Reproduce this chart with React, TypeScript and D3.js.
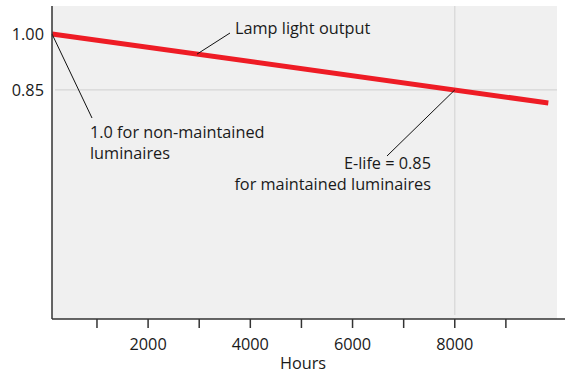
import React from "react";
import * as d3 from "d3";

const hours = [120, 9830];
const output = [1.0, 0.815];
const xTicks = [1000, 2000, 3000, 4000, 5000, 6000, 7000, 8000, 9000];
const xLabels = [2000, 4000, 6000, 8000];
const yTicks = [1.0, 0.85];

const W = 565, H = 374;
const left = 52, right = 557, top = 6, bottom = 319;
const FONT = "'Open Sans', sans-serif";
const FS = 16.3;

export default function App() {
  const x = d3.scaleLinear().domain([120, 10000]).range([left, right]);
  const y = d3.scaleLinear().domain([0.236, 1.075]).range([bottom, top]);
  const pts = hours.map((h, i) => [h, output[i]] as [number, number]);
  const line = d3.line<[number, number]>().x(d => x(d[0])).y(d => y(d[1]));
  const ex = x(8000), ey = y(0.85);
  const lampAt = (px: number) => y(1 - 0.15 * (x.invert(px) - 120) / 7880);
  return (
    <svg width={W} height={H} style={{ position: "absolute", left: 0, top: 0 }} fontFamily={FONT}>
      <rect x={left} y={top} width={right - left} height={bottom - top} fill="#f0f0f0" />
      <line x1={left + 3} x2={right} y1={y(0.85)} y2={y(0.85)} stroke="#d6d6d6" strokeWidth={1.2} />
      <line x1={x(8000)} x2={x(8000)} y1={top} y2={bottom - 4} stroke="#d6d6d6" strokeWidth={1.2} />
      <path d={line(pts) || ""} stroke="#ee1c25" strokeWidth={5} fill="none" />
      {/* leaders */}
      <line x1={197} y1={lampAt(197)} x2={230} y2={33} stroke="#111" strokeWidth={1} />
      <line x1={left} y1={y(1.0)} x2={92} y2={118} stroke="#111" strokeWidth={1} />
      <line x1={ex} y1={ey} x2={387} y2={156} stroke="#111" strokeWidth={1} />
      {/* axes */}
      <line x1={left} x2={left} y1={top} y2={bottom} stroke="#333" strokeWidth={1.5} />
      <line x1={left} x2={right + 8} y1={bottom} y2={bottom} stroke="#333" strokeWidth={1.5} />
      {xTicks.map(t => (
        <line key={t} x1={x(t)} x2={x(t)} y1={bottom} y2={bottom + 9} stroke="#333" strokeWidth={1.5} />
      ))}
      {xLabels.map(t => (
        <text key={t} x={x(t)} y={350} textAnchor="middle" fontSize={FS} fill="#1a1a1a">{t}</text>
      ))}
      <text x={303} y={369} textAnchor="middle" fontSize={FS} fill="#1a1a1a">Hours</text>
      {yTicks.map(t => (
        <text key={t} x={44} y={y(t) + 6} textAnchor="end" fontSize={FS} fill="#1a1a1a">{t.toFixed(2)}</text>
      ))}
      <text x={235} y={34} fontSize={FS} fill="#1a1a1a">Lamp light output</text>
      <text x={90} y={138} fontSize={FS} fill="#1a1a1a">1.0 for non-maintained</text>
      <text x={90} y={159} fontSize={FS} fill="#1a1a1a">luminaires</text>
      <text x={431} y={169} textAnchor="end" fontSize={FS} fill="#1a1a1a">E-life = 0.85</text>
      <text x={431} y={190} textAnchor="end" fontSize={FS} fill="#1a1a1a">for maintained luminaires</text>
    </svg>
  );
}
